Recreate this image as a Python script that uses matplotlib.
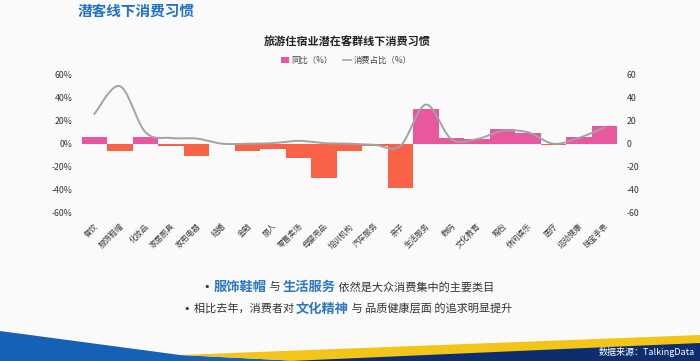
import numpy as np
import matplotlib
matplotlib.use("Agg")
import matplotlib.pyplot as plt
from matplotlib.patches import Polygon, Patch
from matplotlib.lines import Line2D

plt.rcParams['font.family'] = ['Noto Sans CJK SC', 'DejaVu Sans']
plt.rcParams['axes.unicode_minus'] = False

categories = ['餐饮', '服饰鞋帽', '化妆品', '家居厨具', '家用电器', '结婚', '金融', '丽人',
              '零售卖场', '母婴用品', '培训机构', '汽车服务', '亲子', '生活服务', '数码',
              '文化教育', '箱包', '休闲娱乐', '医疗', '运动健康', '珠宝手表']
yoy = [6, -6, 6, -2, -11, -0.5, -6, -5, -12, -29.5, -6, -2, -38.5, 30, 5, 4, 13, 9.5, -1, 5.5, 15]
share = [26, 50, 10, 5, 4.5, 0, 0, 0.5, 2.5, 0.5, 0, -1, -2, 34, 4, 4, 11, 10, 0, 5, 14]
left_ticks = [60, 40, 20, 0, -20, -40, -60]
left_labels = ['60%', '40%', '20%', '0%', '-20%', '-40%', '-60%']
right_labels = ['60', '40', '20', '0', '-20', '-40', '-60']

W, H = 700, 361
fig = plt.figure(figsize=(7, 3.61), dpi=100)
fig.patch.set_facecolor('#FAFAFB')

# background bands
bg = fig.add_axes([0, 0, 1, 1], zorder=-5)
bg.set_xlim(0, W); bg.set_ylim(H, 0); bg.axis('off')
bg.add_patch(Polygon([(0, 331), (180, 355), (300, 361), (0, 361)], closed=True, color='#1660B6', lw=0))
bg.add_patch(Polygon([(180, 355), (700, 335), (700, 361), (300, 361)], closed=True, color='#F2C518', lw=0))
bg.add_patch(Polygon([(290, 361), (700, 343), (700, 361)], closed=True, color='#0C2E70', lw=0))

ax = fig.add_axes([81.7 / W, 1 - 212.7 / H, 535.3 / W, 138 / H])
ax.set_facecolor('none')
x = np.arange(len(categories))
colors = ['#E9579F' if v >= 0 else '#FA6248' for v in yoy]
ax.bar(x, yoy, width=1.0, color=colors, lw=0, zorder=2)
ax.set_xlim(-0.5, len(categories) - 0.5)
ax.set_ylim(-60, 60)
ax.set_yticks(left_ticks)
ax.set_yticklabels(left_labels)
ax.set_xticks(x)
ax.set_xticklabels(categories, rotation=45, ha='right', va='top', rotation_mode='anchor', fontsize=5.6, color='#3A3A3A')
ax.tick_params(axis='x', length=0, pad=7)
ax.tick_params(axis='y', length=0, pad=6.5, labelsize=6.3, labelcolor='#333333')
for s in ax.spines.values():
    s.set_visible(False)

ax2 = ax.twinx()
ax2.set_ylim(-60, 60)
ax2.set_yticks(left_ticks)
ax2.set_yticklabels(right_labels)
ax2.tick_params(axis='y', length=0, pad=7, labelsize=6.3, labelcolor='#333333')
for s in ax2.spines.values():
    s.set_visible(False)


def catmull(xs, ys, n=24):
    pts = np.column_stack([xs, ys]).astype(float)
    P = np.vstack([pts[0], pts, pts[-1]])
    out = []
    t = np.linspace(0, 1, n, endpoint=False)[:, None]
    for i in range(1, len(P) - 2):
        p0, p1, p2, p3 = P[i - 1], P[i], P[i + 1], P[i + 2]
        seg = 0.5 * ((2 * p1) + (-p0 + p2) * t + (2 * p0 - 5 * p1 + 4 * p2 - p3) * t ** 2
                     + (-p0 + 3 * p1 - 3 * p2 + p3) * t ** 3)
        out.append(seg)
    out.append(pts[-1][None])
    return np.vstack(out)


curve = catmull(x, share)
ax2.plot(curve[:, 0], curve[:, 1], color='#A3A3A3', lw=1.4, zorder=3)

# titles
fig.text(78 / W, 1 - 11 / H, '潜客线下消费习惯', fontsize=10.5, fontweight='bold', color='#1F70C8',
         ha='left', va='center')
fig.text(347 / W, 1 - 42 / H, '旅游住宿业潜在客群线下消费习惯', fontsize=8, fontweight='bold',
         color='#222222', ha='center', va='center')
handles = [Patch(facecolor='#E9579F', edgecolor='none'),
           Line2D([0], [0], color='#A3A3A3', lw=1.2)]
fig.legend(handles, ['同比（%）', '消费占比（%）'], loc='center', bbox_to_anchor=(346 / W, 1 - 60 / H),
           ncol=2, frameon=False, fontsize=6, handlelength=1.0, handleheight=0.7,
           handletextpad=0.3, columnspacing=1.2, labelcolor='#444444')

renderer = fig.canvas.get_renderer()


def rich_line(pieces, cx, cy):
    texts = []
    for s, kw in pieces:
        t = fig.text(0, 1 - cy / H, s, va='center', ha='left', **kw)
        texts.append(t)
    widths = [t.get_window_extent(renderer).width for t in texts]
    x0 = cx - sum(widths) / 2
    for t, w in zip(texts, widths):
        t.set_x(x0 / W)
        x0 += w


dark = dict(fontsize=8, color='#333333', fontweight='medium')
blue = dict(fontsize=9.5, color='#2C77C2', fontweight='bold')
bullet = dict(fontsize=8, color='#333333', family=['DejaVu Sans'])
rich_line([('• ', bullet), ('服饰鞋帽', blue), (' 与 ', dark), ('生活服务', blue),
           (' 依然是大众消费集中的主要类目', dark)], 349, 287)
rich_line([('• ', bullet), ('相比去年，消费者对 ', dark), ('文化精神', blue), (' 与 品质健康层面 的追求明显提升', dark)],
          348, 309)

fig.text(695 / W, 1 - 352 / H, '数据来源：TalkingData', fontsize=6.5, color='white', ha='right', va='center')

fig.savefig('out.png', dpi=100, facecolor=fig.get_facecolor())
